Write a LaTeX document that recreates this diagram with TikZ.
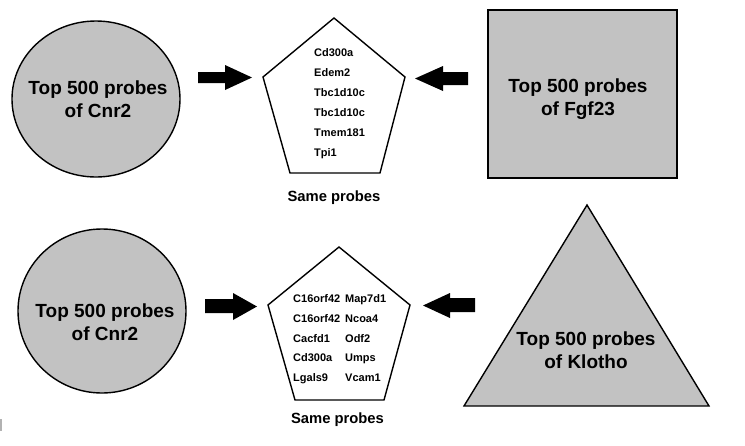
\documentclass[tikz,border=0pt]{standalone}
\usepackage{fontspec}
\setmainfont{Liberation Sans}
\begin{document}
\begin{tikzpicture}[x=1pt,y=-1pt,
  shapefill/.style={fill=shapegray,draw=black,line width=1.4pt},
  bigtext/.style={font=\fontsize{19}{22.5}\selectfont\bfseries,align=center,inner sep=0pt},
  probe/.style={font=\fontsize{11}{13}\selectfont\bfseries,anchor=west,inner sep=0pt,text height=8pt,text depth=0pt},
  caption/.style={font=\fontsize{14.8}{17}\selectfont\bfseries,inner sep=0pt,text height=10.6pt,text depth=0pt},
  blockarrow/.style={fill=black,draw=none}]
\definecolor{shapegray}{RGB}{194,194,194}
\useasboundingbox (0,0) rectangle (745,445);
\fill[white] (0,0) rectangle (745,445);

% ---------- top row ----------
\draw[shapefill] (96,99) ellipse [x radius=84, y radius=78];
\node[bigtext] (c1) at (98,99) {Top 500 probes\\of Cnr2};

\fill[blockarrow] (198,72) -- (225,72) -- (225,65) -- (252,77.5) -- (225,90) -- (225,83) -- (198,83) -- cycle;

\draw[line width=1.4pt,fill=white] (334,18) -- (405,77) -- (380,173) -- (290,173) -- (263,77) -- cycle;
\node[probe] (p1) at (314,52) {Cd300a};
\node[probe] (p2) at (314,72) {Edem2};
\node[probe] (p3) at (314,92.5) {Tbc1d10c};
\node[probe] (p4) at (314,112) {Tbc1d10c};
\node[probe] (p5) at (314,132.5) {Tmem181};
\node[probe] (p6) at (314,152) {Tpi1};
\node[caption] (s1) at (334,196) {Same probes};

\fill[blockarrow] (468,72) -- (443,72) -- (443,66) -- (415,78.5) -- (443,91) -- (443,85) -- (468,85) -- cycle;

\draw[shapefill,line width=1.8pt] (488,10) rectangle (677,178);
\node[bigtext] (f1) at (578,99) {Top 500 probes\\of Fgf23};

% ---------- bottom row ----------
\draw[shapefill] (102,311) ellipse [x radius=84, y radius=82];
\node[bigtext] (c2) at (105,322) {Top 500 probes\\of Cnr2};

\fill[blockarrow] (205,299) -- (233,299) -- (233,293) -- (257,306.5) -- (233,320) -- (233,313) -- (205,313) -- cycle;

\draw[line width=1.4pt,fill=white] (339,247) -- (410,305) -- (384,400) -- (295,400) -- (268,305) -- cycle;
\node[probe] (q1) at (293,298) {C16orf42};
\node[probe] (q2) at (293,318) {C16orf42};
\node[probe] (q3) at (293,338) {Cacfd1};
\node[probe] (q4) at (293,357) {Cd300a};
\node[probe] (q5) at (293,377) {Lgals9};
\node[probe] (r1) at (345,298) {Map7d1};
\node[probe] (r2) at (345,318) {Ncoa4};
\node[probe] (r3) at (345,338) {Odf2};
\node[probe] (r4) at (345,357) {Umps};
\node[probe] (r5) at (345,377) {Vcam1};
\node[caption] (s2) at (337.5,418) {Same probes};

\fill[blockarrow] (475,298) -- (450,298) -- (450,293) -- (423,305.5) -- (450,318) -- (450,312) -- (475,312) -- cycle;

\draw[shapefill] (587,205) -- (709,406) -- (464,406) -- cycle;
\node[bigtext] (k1) at (586,350) {Top 500 probes\\of Klotho};

% small grey mark at the lower left edge
\fill[gray!60] (0,419) rectangle (2,431);
\end{tikzpicture}
\end{document}
